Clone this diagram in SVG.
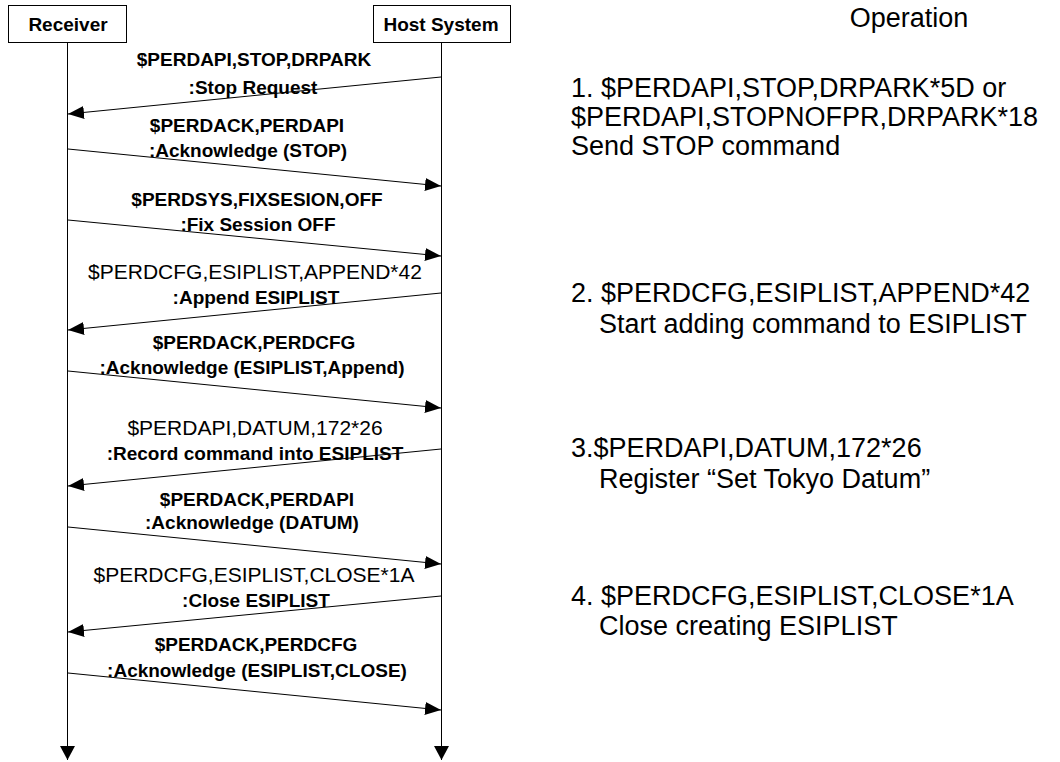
<svg xmlns="http://www.w3.org/2000/svg" width="1060" height="762" viewBox="0 0 1060 762">
<style>
.box{fill:#fff;stroke:#000;stroke-width:1}
.life{stroke:#000;stroke-width:1;fill:none}
.msg{stroke:#000;stroke-width:1;fill:none;marker-end:url(#ah)}
.lb{font-family:"Liberation Sans",Arial,sans-serif;font-weight:bold;font-size:19px;text-anchor:middle;fill:#000}
.lr{font-family:"Liberation Sans",Arial,sans-serif;font-size:21px;text-anchor:middle;fill:#000}
.op{font-family:"Liberation Sans",Arial,sans-serif;font-size:27px;fill:#000}
</style>
<defs>
<marker id="ah" markerUnits="userSpaceOnUse" markerWidth="18" markerHeight="14" refX="16" refY="6.5" orient="auto">
<path d="M0,0 L16,6.5 L0,13 Z" fill="#000"/>
</marker>
<marker id="lh" markerUnits="userSpaceOnUse" markerWidth="16" markerHeight="16" refX="14" refY="7.5" orient="auto">
<path d="M0,0 L14,7.5 L0,15 Z" fill="#000"/>
</marker>
</defs>
<rect width="1060" height="762" fill="#fff"/>
<g id="receiver">
<rect class="box" x="8.5" y="5.5" width="118" height="37"/>
<text class="lb" x="68" y="31">Receiver</text>
</g>
<g id="host">
<rect class="box" x="373.5" y="5.5" width="137" height="37"/>
<text class="lb" x="441" y="31">Host System</text>
</g>
<g id="connectors">
<line class="life" x1="67.5" y1="42.5" x2="67.5" y2="760" marker-end="url(#lh)"/>
<line class="life" x1="441.5" y1="42.5" x2="441.5" y2="760" marker-end="url(#lh)"/>
<line class="msg" x1="441" y1="77" x2="68" y2="114"/>
<line class="msg" x1="68" y1="149" x2="441" y2="186"/>
<line class="msg" x1="68" y1="220" x2="441" y2="256"/>
<line class="msg" x1="441" y1="293" x2="68" y2="330"/>
<line class="msg" x1="68" y1="371" x2="441" y2="408"/>
<line class="msg" x1="441" y1="449" x2="68" y2="486"/>
<line class="msg" x1="68" y1="527" x2="441" y2="564"/>
<line class="msg" x1="441" y1="596" x2="68" y2="632"/>
<line class="msg" x1="68" y1="673" x2="441" y2="710"/>
</g>
<g id="labels">
<text class="lb" x="254" y="66">$PERDAPI,STOP,DRPARK</text>
<text class="lb" x="253" y="94">:Stop Request</text>
<text class="lb" x="247" y="132">$PERDACK,PERDAPI</text>
<text class="lb" x="248" y="157">:Acknowledge (STOP)</text>
<text class="lb" x="257" y="206">$PERDSYS,FIXSESION,OFF</text>
<text class="lb" x="258" y="231">:Fix Session OFF</text>
<text class="lr" x="255" y="279">$PERDCFG,ESIPLIST,APPEND*42</text>
<text class="lb" x="256" y="304">:Append ESIPLIST</text>
<text class="lb" x="254" y="349">$PERDACK,PERDCFG</text>
<text class="lb" x="252" y="374">:Acknowledge (ESIPLIST,Append)</text>
<text class="lr" x="255" y="435">$PERDAPI,DATUM,172*26</text>
<text class="lb" x="255" y="460">:Record command into ESIPLIST</text>
<text class="lb" x="257" y="506">$PERDACK,PERDAPI</text>
<text class="lb" x="252" y="529">:Acknowledge (DATUM)</text>
<text class="lr" x="254" y="582">$PERDCFG,ESIPLIST,CLOSE*1A</text>
<text class="lb" x="256" y="607">:Close ESIPLIST</text>
<text class="lb" x="256" y="651">$PERDACK,PERDCFG</text>
<text class="lb" x="257" y="677">:Acknowledge (ESIPLIST,CLOSE)</text>
</g>
<g id="operation">
<text class="op" x="909" y="27" text-anchor="middle">Operation</text>
<text class="op" x="571" y="97">1. $PERDAPI,STOP,DRPARK*5D or</text>
<text class="op" x="571" y="126">$PERDAPI,STOPNOFPR,DRPARK*18</text>
<text class="op" x="571" y="155">Send STOP command</text>
<text class="op" x="571" y="302">2. $PERDCFG,ESIPLIST,APPEND*42</text>
<text class="op" x="599" y="333">Start adding command to ESIPLIST</text>
<text class="op" x="571" y="457">3.$PERDAPI,DATUM,172*26</text>
<text class="op" x="599" y="488">Register “Set Tokyo Datum”</text>
<text class="op" x="571" y="605">4. $PERDCFG,ESIPLIST,CLOSE*1A</text>
<text class="op" x="599" y="635">Close creating ESIPLIST</text>
</g>
</svg>
